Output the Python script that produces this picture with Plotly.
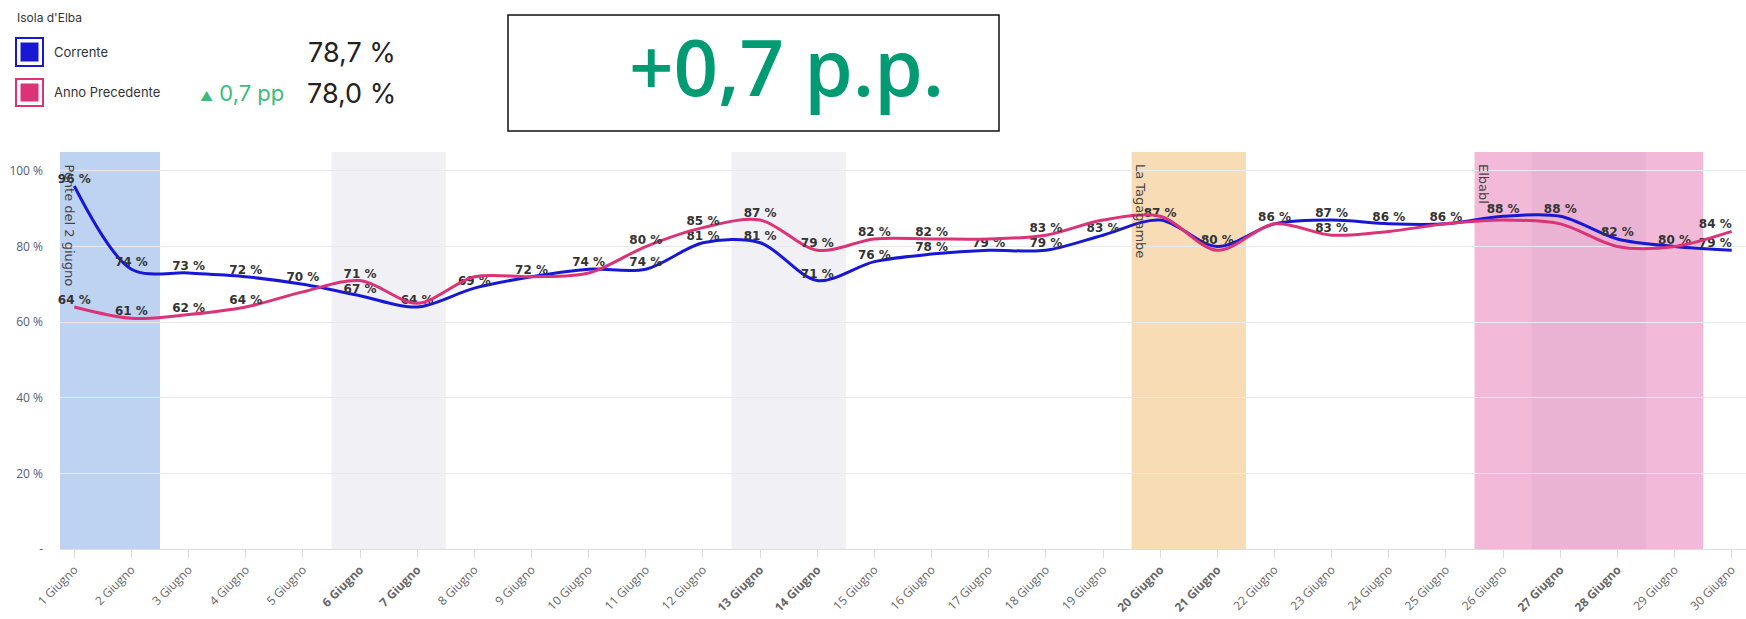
import plotly.graph_objects as go

# ---------------- data ----------------
days = list(range(1, 31))
day_labels = [f"{d} Giugno" for d in days]
weekend_days = [6, 7, 13, 14, 20, 21, 27, 28]
corrente = [96, 74, 73, 72, 70, 67, 64, 69, 72, 74, 74, 81, 81, 71, 76, 78, 79, 79, 83, 87,
            80, 86, 87, 86, 86, 88, 88, 82, 80, 79]
precedente = [64, 61, 62, 64, 68, 71, 65, 72, 72, 73, 80, 85, 87, 79, 82, 82, 82, 83, 87, 88,
              79, 86, 83, 84, 86, 87, 86, 80, 80, 84]
# days whose previous-year label is visible (others hidden by overlap in the original)
precedente_label_days = [1, 2, 3, 4, 6, 11, 12, 13, 14, 15, 16, 18, 23, 30]
y_ticks = [0, 20, 40, 60, 80, 100]
y_tick_labels = ["-", "20 %", "40 %", "60 %", "80 %", "100 %"]
bands = [  # (start, end, colour)
    (0.75, 2.5, "#bed3f2"),
    (5.5, 7.5, "#f1f1f5"),
    (12.5, 14.5, "#f1f1f5"),
    (19.5, 21.5, "#f8dcb6"),
    (25.5, 29.5, "#f3b9d9"),
    (26.5, 28.5, "#ebb3d3"),
]
band_labels = [(0.75, "Ponte del 2 giugno"), (19.5, "La Tagagambe"), (25.5, "Elbabl")]
title = "Isola d'Elba"
kpi_corrente = "78,7 %"
kpi_precedente = "78,0 %"
kpi_delta = "0,7 pp"
big_delta = "+0,7 p.p."

BLUE = "#1818d4"
PINK = "#dc3278"

# ---------------- layout geometry (pixels) ----------------
W, H = 1746, 619
PL, PT, PW, PH = 60, 152, W - 60, 549 - 152


def px(x):
    return (x - PL) / PW


def py(y):
    return (PT + PH - y) / PH


fig = go.Figure()

lab_font = dict(family="DejaVu Sans", size=12, color="#333333", weight="bold")
last = days[-1]
pos = ["top left" if d == last else "top center" for d in days]

fig.add_trace(go.Scatter(
    x=days, y=corrente, mode="lines+text", name="Corrente",
    line=dict(color=BLUE, width=3, shape="spline", smoothing=0.9),
    text=[f"{v} %" for v in corrente], textposition=pos,
    textfont=lab_font, cliponaxis=False, showlegend=False, hoverinfo="skip",
))
fig.add_trace(go.Scatter(
    x=days, y=precedente, mode="lines+text", name="Anno Precedente",
    line=dict(color=PINK, width=3, shape="spline", smoothing=0.9),
    text=[f"{v} %" if d in precedente_label_days else "" for d, v in zip(days, precedente)],
    textposition=pos, textfont=lab_font, cliponaxis=False, showlegend=False, hoverinfo="skip",
))

shapes = []
for x0, x1, c in bands:
    shapes.append(dict(type="rect", xref="x", yref="paper", x0=x0, x1=x1, y0=0, y1=1,
                       fillcolor=c, line=dict(width=0), layer="below"))

# legend squares
for (yt, yb, col) in [(38, 66, BLUE), (79, 106, PINK)]:
    shapes.append(dict(type="rect", xref="paper", yref="paper",
                       x0=px(16), x1=px(43), y0=py(yb), y1=py(yt),
                       fillcolor="white", line=dict(color=col, width=2)))
    shapes.append(dict(type="rect", xref="paper", yref="paper",
                       x0=px(20.5), x1=px(38.5), y0=py(yb - 4.5), y1=py(yt + 4.5),
                       fillcolor=col, line=dict(width=0)))
# big box
shapes.append(dict(type="rect", xref="paper", yref="paper",
                   x0=px(508), x1=px(999), y0=py(131), y1=py(15),
                   fillcolor="white", line=dict(color="#111111", width=1.5)))

annotations = []
for x0, txt in band_labels:
    annotations.append(dict(x=x0, y=py(162), xref="x", yref="paper", text=txt,
                            textangle=90, showarrow=False, xanchor="left", yanchor="top",
                            xshift=0, font=dict(family="DejaVu Sans", size=13, color="#444444")))

hdr = "Inter"
annotations += [
    dict(x=px(15), y=py(17), text=title, font=dict(family=hdr, size=12, color="#333333")),
    dict(x=px(52), y=py(52), text="Corrente", font=dict(family=hdr, size=13, color="#333333")),
    dict(x=px(52), y=py(92), text="Anno Precedente", font=dict(family=hdr, size=13, color="#333333")),
    dict(x=px(398), y=py(53), text=kpi_corrente, xanchor="right",
         font=dict(family=hdr, size=27, color="#222222")),
    dict(x=px(398), y=py(93), text=kpi_precedente, xanchor="right",
         font=dict(family=hdr, size=27, color="#222222")),
    dict(x=px(198), y=py(93),
         text=f"<span style='font-size:13px'>▲</span> {kpi_delta}",
         font=dict(family=hdr, size=22, color="#3dbb78")),
    dict(x=px(786), y=py(66), text=big_delta, xanchor="center",
         font=dict(family="Open Sans", size=78, color="#009b72", weight=600)),
]
for a in annotations:
    if a.get("xref") is None:
        a.update(xref="paper", yref="paper", showarrow=False)
        a.setdefault("xanchor", "left")
        a.setdefault("yanchor", "middle")

fig.update_layout(
    width=W, height=H,
    margin=dict(l=PL, r=0, t=PT, b=H - PT - PH),
    plot_bgcolor="white", paper_bgcolor="white",
    shapes=shapes, annotations=annotations,
    showlegend=False, hovermode=False,
    xaxis=dict(
        range=[0.75, 30.25], tickmode="array", tickvals=days,
        ticktext=[f"<b>{l}</b>" if d in weekend_days else l for d, l in zip(days, day_labels)],
        tickangle=-45, tickfont=dict(family="Open Sans", size=12, color="#666666"),
        showgrid=False, zeroline=False, showline=True, linecolor="#dddddd", linewidth=1,
        ticks="outside", ticklen=8, tickcolor="#dddddd",
    ),
    yaxis=dict(
        range=[0, 105], tickmode="array", tickvals=y_ticks, ticktext=y_tick_labels,
        tickfont=dict(family="Open Sans", size=12, color="#555b75"),
        showgrid=True, gridcolor="#e9e9ee", zeroline=False, showline=False,
        ticklabelstandoff=16,
    ),
)

fig.write_html("out.html", config={"displayModeBar": False},
               post_script="document.body.style.margin='0';document.body.style.overflow='hidden';")
